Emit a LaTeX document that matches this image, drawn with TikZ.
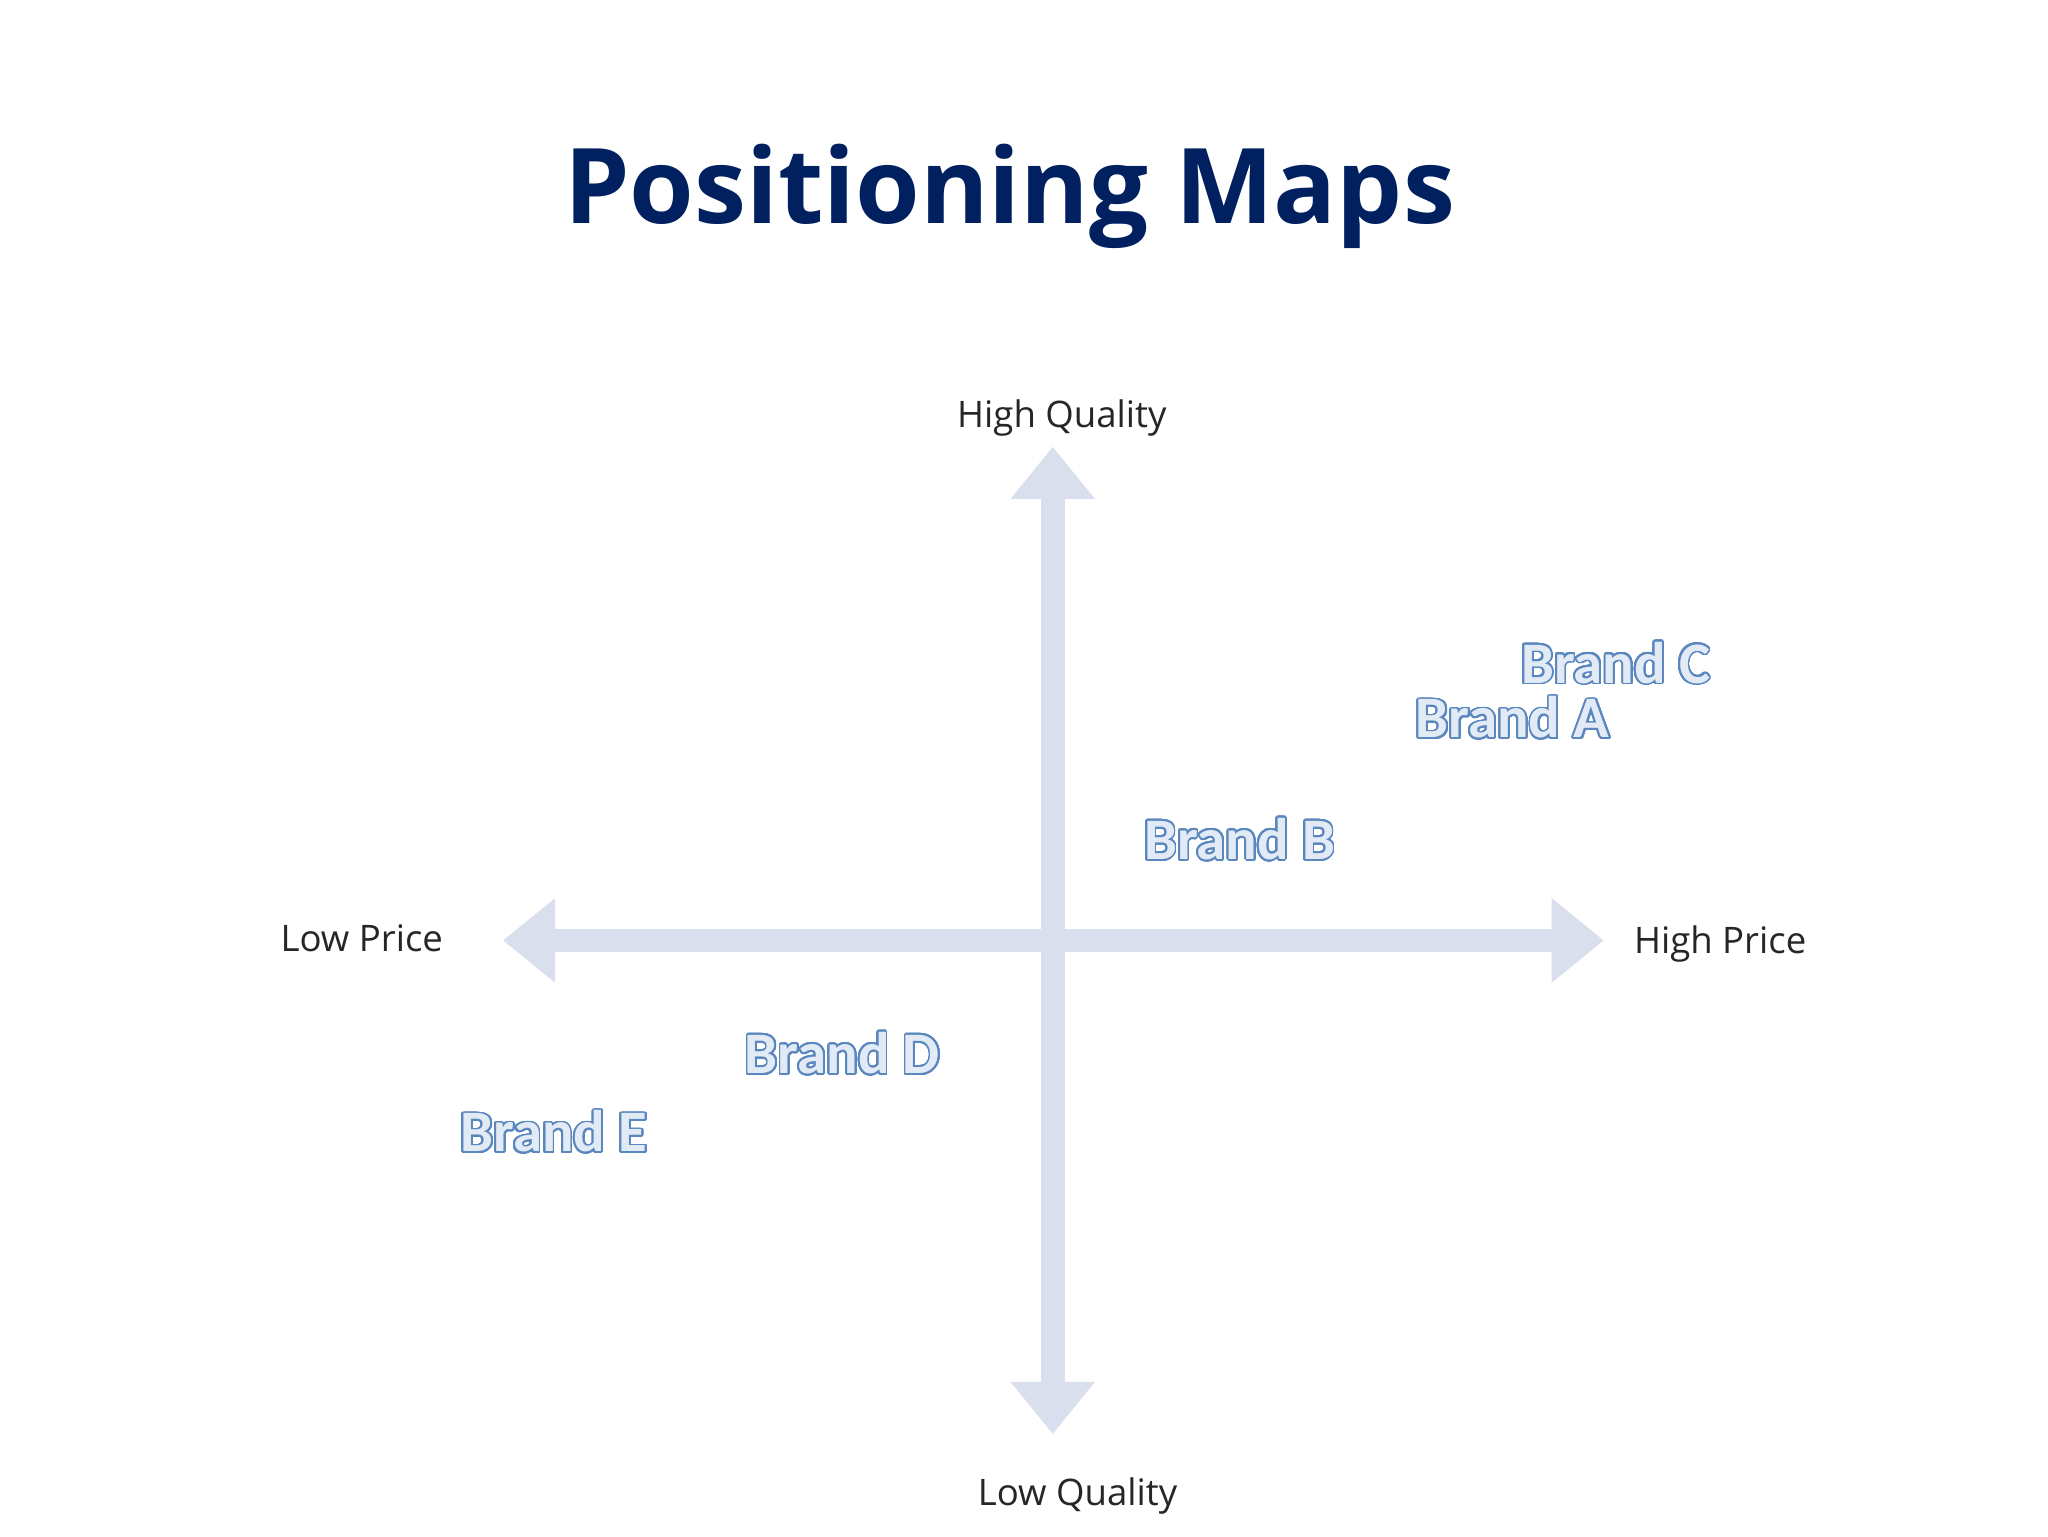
\documentclass[tikz,border=0pt]{standalone}
\usepackage{fontspec}
\setmainfont{Open Sans}
\newfontfamily\brandfont{Carlito}
\usepackage{contour}
\contourlength{1.4pt}
\contournumber{32}
\usetikzlibrary{arrows.meta}
\definecolor{navy}{RGB}{0,32,96}
\definecolor{axis}{RGB}{217,223,236}
\definecolor{brandline}{RGB}{90,135,190}
\definecolor{brandfill}{RGB}{226,234,246}
\tikzset{
  ax/.style={line width=18pt,draw=axis,{Triangle[width=62pt,length=40pt]}-{Triangle[width=62pt,length=40pt]}},
  lab/.style={font=\fontsize{28}{30}\selectfont,text=black!85},
  brand/.style={font=\brandfont\bfseries\fontsize{45}{47}\selectfont},
}
\newcommand{\brandtxt}[1]{\contour{brandline}{\textcolor{brandfill}{#1}}}
\begin{document}
\begin{tikzpicture}[x=1pt,y=-1pt]
\useasboundingbox[fill=white] (0,0) rectangle (1568,1176);
\node[font=\bfseries\fontsize{80}{82}\selectfont,text=navy] (title) at (773,150) {Positioning Maps};
\coordinate (L) at (385,720); \coordinate (R) at (1228,720);
\coordinate (T) at (806,342); \coordinate (B) at (806,1098);
\draw[ax] (L) -- (R);
\draw[ax] (T) -- (B);
\node[lab] (hq) at (813,320) {High Quality};
\node[lab] (lq) at (825,1145) {Low Quality};
\node[lab] (lp) at (277,718) {Low Price};
\node[lab] (hp) at (1317,723) {High Price};
\node[brand] (bc) at (1237,508) {\brandtxt{Brand C}};
\node[brand] (ba) at (1158,550) {\brandtxt{Brand A}};
\node[brand] (bb) at (949,643) {\brandtxt{Brand B}};
\node[brand] (bd) at (645,807) {\brandtxt{Brand D}};
\node[brand] (be) at (424,867) {\brandtxt{Brand E}};
\end{tikzpicture}
\end{document}
